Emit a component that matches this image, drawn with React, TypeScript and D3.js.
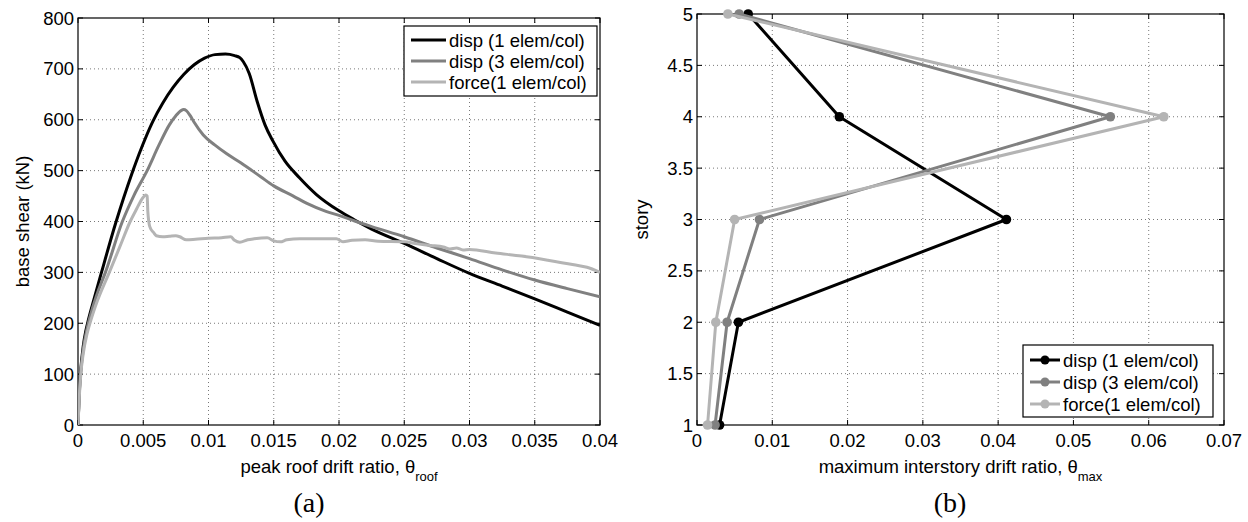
import React from 'react';
import * as d3 from 'd3';

const seriesNames = ['disp (1 elem/col)', 'disp (3 elem/col)', 'force(1 elem/col)'];
const seriesColors = ['#000000', '#808080', '#b4b4b4'];

// Pushover curves: [peak roof drift ratio, base shear kN]
const pushDisp1: [number, number][] = [
  [0, 0], [0.0001, 65], [0.0002, 105], [0.0004, 155], [0.0006, 185], [0.0008, 207],
  [0.0012, 245], [0.0018, 300], [0.0029, 398], [0.0041, 492], [0.0049, 547], [0.0057, 595],
  [0.0065, 633], [0.0073, 664], [0.0081, 689], [0.0089, 708], [0.0097, 721], [0.0105, 728],
  [0.0113, 729], [0.012, 726], [0.0124, 722], [0.01267, 714], [0.01312, 691], [0.01373, 636],
  [0.01433, 590], [0.01494, 558], [0.01585, 519], [0.01697, 486], [0.01827, 453], [0.02, 421],
  [0.0212, 403], [0.0225, 385], [0.025, 357], [0.0275, 327], [0.03, 298], [0.0325, 273],
  [0.035, 248], [0.0375, 222], [0.04, 196],
];
const pushDisp3: [number, number][] = [
  [0, 0], [0.0001, 60], [0.0002, 100], [0.0004, 148], [0.0007, 190], [0.001, 220],
  [0.0015, 260], [0.0021, 300], [0.0034, 400], [0.0043, 452], [0.0053, 500], [0.0062, 550],
  [0.007, 590], [0.0075, 608], [0.0079, 618], [0.0081, 620], [0.0083, 618], [0.0086, 608],
  [0.0089, 595], [0.0096, 570], [0.0105, 550], [0.0114, 533], [0.0125, 515], [0.014, 488],
  [0.015, 470], [0.0165, 450], [0.0175, 436], [0.019, 420], [0.02, 412], [0.0212, 401],
  [0.0225, 390], [0.025, 370], [0.0275, 348], [0.03, 327], [0.0325, 305], [0.035, 285],
  [0.0375, 268], [0.04, 252],
];
const pushForce: [number, number][] = [
  [0, 0], [0.0001, 55], [0.0002, 95], [0.0004, 140], [0.0007, 180], [0.001, 207],
  [0.0015, 245], [0.0024, 300], [0.0032, 350], [0.004, 400], [0.0045, 425], [0.0049, 444],
  [0.0052, 452], [0.0053, 450], [0.00535, 420], [0.0055, 390], [0.0058, 378], [0.006, 372],
  [0.0065, 370], [0.007, 371], [0.0075, 372], [0.0078, 370], [0.0083, 364], [0.009, 365],
  [0.01, 367], [0.011, 368], [0.0117, 370], [0.012, 363], [0.0124, 359], [0.013, 364],
  [0.0135, 366], [0.0145, 368], [0.015, 362], [0.0155, 360], [0.016, 364], [0.017, 366],
  [0.018, 366], [0.0198, 366], [0.0203, 360], [0.021, 363], [0.022, 364], [0.023, 361],
  [0.025, 360], [0.026, 356], [0.027, 353], [0.028, 350], [0.0285, 346], [0.029, 348],
  [0.0295, 344], [0.03, 345], [0.032, 338], [0.034, 332], [0.036, 324], [0.038, 315],
  [0.039, 310], [0.04, 300],
];

// Story drift profiles
const storyLevels = [1, 2, 3, 4, 5];
const driftDisp1 = [0.003, 0.0055, 0.0411, 0.0189, 0.0068];
const driftDisp3 = [0.0024, 0.004, 0.0083, 0.0549, 0.0056];
const driftForce = [0.0014, 0.0025, 0.005, 0.062, 0.0041];

const pushXTicks = [0, 0.005, 0.01, 0.015, 0.02, 0.025, 0.03, 0.035, 0.04];
const pushYTicks = [0, 100, 200, 300, 400, 500, 600, 700, 800];
const storyXTicks = [0, 0.01, 0.02, 0.03, 0.04, 0.05, 0.06, 0.07];
const storyYTicks = [1, 1.5, 2, 2.5, 3, 3.5, 4, 4.5, 5];

const FONT = '"Liberation Sans", Arial, Helvetica, sans-serif';
const SERIF = '"Liberation Serif", "Times New Roman", serif';
const FS = 18.5;

type Box = { x0: number; x1: number; y0: number; y1: number };

function Frame({ box, x, y, xt, yt }: { box: Box; x: d3.ScaleLinear<number, number>; y: d3.ScaleLinear<number, number>; xt: number[]; yt: number[] }) {
  const TL = 5;
  return (
    <g>
      {xt.map((t, i) => (i > 0 && i < xt.length - 1 ? (
        <line key={'gx' + i} x1={x(t)} x2={x(t)} y1={box.y0} y2={box.y1} stroke="#555" strokeWidth={0.8} strokeDasharray="1 3" />
      ) : null))}
      {yt.map((t, i) => (i > 0 && i < yt.length - 1 ? (
        <line key={'gy' + i} x1={box.x0} x2={box.x1} y1={y(t)} y2={y(t)} stroke="#555" strokeWidth={0.8} strokeDasharray="1 3" />
      ) : null))}
      {xt.map((t, i) => (
        <g key={'tx' + i}>
          <line x1={x(t)} x2={x(t)} y1={box.y1} y2={box.y1 - TL} stroke="#000" strokeWidth={1} />
          <line x1={x(t)} x2={x(t)} y1={box.y0} y2={box.y0 + TL} stroke="#000" strokeWidth={1} />
          <text x={x(t)} y={box.y1 + 22} textAnchor="middle" fontFamily={FONT} fontSize={FS}>{String(t)}</text>
        </g>
      ))}
      {yt.map((t, i) => (
        <g key={'ty' + i}>
          <line x1={box.x0} x2={box.x0 + TL} y1={y(t)} y2={y(t)} stroke="#000" strokeWidth={1} />
          <line x1={box.x1} x2={box.x1 - TL} y1={y(t)} y2={y(t)} stroke="#000" strokeWidth={1} />
          <text x={box.x0 - 4} y={y(t) + 6.6} textAnchor="end" fontFamily={FONT} fontSize={FS}>{String(t)}</text>
        </g>
      ))}
      <rect x={box.x0} y={box.y0} width={box.x1 - box.x0} height={box.y1 - box.y0} fill="none" stroke="#000" strokeWidth={1.2} />
    </g>
  );
}

function Legend({ x0, y0, w, h, rows, lineLen, markers }: { x0: number; y0: number; w: number; h: number; rows: number[]; lineLen: number; markers: boolean }) {
  return (
    <g>
      <rect x={x0} y={y0} width={w} height={h} fill="#fff" stroke="#000" strokeWidth={1.2} />
      {seriesNames.map((n, i) => (
        <g key={n}>
          <line x1={x0 + 7} x2={x0 + 7 + lineLen} y1={rows[i]} y2={rows[i]} stroke={seriesColors[i]} strokeWidth={3} />
          {markers ? <circle cx={x0 + 7 + lineLen / 2} cy={rows[i]} r={4.5} fill={seriesColors[i]} /> : null}
          <text x={x0 + 10 + lineLen} y={rows[i] + 6.5} fontFamily={FONT} fontSize={FS}>{n}</text>
        </g>
      ))}
    </g>
  );
}

export default function App() {
  const L: Box = { x0: 78, x1: 600, y0: 18, y1: 425 };
  const R: Box = { x0: 697, x1: 1224, y0: 14, y1: 425 };

  const lx = d3.scaleLinear().domain([0, 0.04]).range([L.x0, L.x1]);
  const ly = d3.scaleLinear().domain([0, 800]).range([L.y1, L.y0]);
  const rx = d3.scaleLinear().domain([0, 0.07]).range([R.x0, R.x1]);
  const ry = d3.scaleLinear().domain([1, 5]).range([R.y1, R.y0]);

  const smooth = d3.line<[number, number]>().x(d => lx(d[0])).y(d => ly(d[1])).curve(d3.curveMonotoneX);
  const pushPaths = [smooth(pushDisp1), smooth(pushDisp3), smooth(pushForce)];

  const drifts = [driftDisp1, driftDisp3, driftForce];
  const storyLine = d3.line<number>().x(d => rx(d)).y((_, i) => ry(storyLevels[i]));

  return (
    <svg width={1248} height={522} style={{ position: 'absolute', left: 0, top: 0, background: '#fff' }}>
      <defs>
        <clipPath id="clipL"><rect x={L.x0} y={L.y0} width={L.x1 - L.x0} height={L.y1 - L.y0} /></clipPath>
      </defs>
      <rect x={0} y={0} width={1248} height={522} fill="#fff" />
      {/* Left panel */}
      <Frame box={L} x={lx} y={ly} xt={pushXTicks} yt={pushYTicks} />
      <g clipPath="url(#clipL)">
        {pushPaths.map((p, i) => (
          <path key={i} d={p || ''} fill="none" stroke={seriesColors[i]} strokeWidth={3} strokeLinejoin="round" />
        ))}
      </g>
      <Legend x0={404} y0={26} w={193} h={70} rows={[40, 61, 82]} lineLen={35} markers={false} />
      <text x={(L.x0 + L.x1) / 2} y={473} textAnchor="middle" fontFamily={FONT} fontSize={FS}>
        peak roof drift ratio, θ<tspan dy={8} fontSize={13}>roof</tspan>
      </text>
      <text transform={`translate(29,${(L.y0 + L.y1) / 2}) rotate(-90)`} textAnchor="middle" fontFamily={FONT} fontSize={FS}>
        base shear  (kN)
      </text>
      <text x={309} y={512} textAnchor="middle" fontFamily={SERIF} fontSize={28}>(a)</text>

      {/* Right panel */}
      <Frame box={R} x={rx} y={ry} xt={storyXTicks} yt={storyYTicks} />
      {drifts.map((arr, i) => (
        <g key={i}>
          <path d={storyLine(arr) || ''} fill="none" stroke={seriesColors[i]} strokeWidth={3} strokeLinejoin="round" />
          {arr.map((v, j) => (
            <circle key={j} cx={rx(v)} cy={ry(storyLevels[j])} r={4.8} fill={seriesColors[i]} />
          ))}
        </g>
      ))}
      <Legend x0={1023} y0={345} w={190} h={72} rows={[360, 382, 404]} lineLen={30} markers={true} />
      <text x={(R.x0 + R.x1) / 2} y={473} textAnchor="middle" fontFamily={FONT} fontSize={FS}>
        maximum interstory drift ratio, θ<tspan dy={8} fontSize={13}>max</tspan>
      </text>
      <text transform={`translate(648,${(R.y0 + R.y1) / 2}) rotate(-90)`} textAnchor="middle" fontFamily={FONT} fontSize={FS}>
        story
      </text>
      <text x={950} y={512} textAnchor="middle" fontFamily={SERIF} fontSize={28}>(b)</text>
    </svg>
  );
}
